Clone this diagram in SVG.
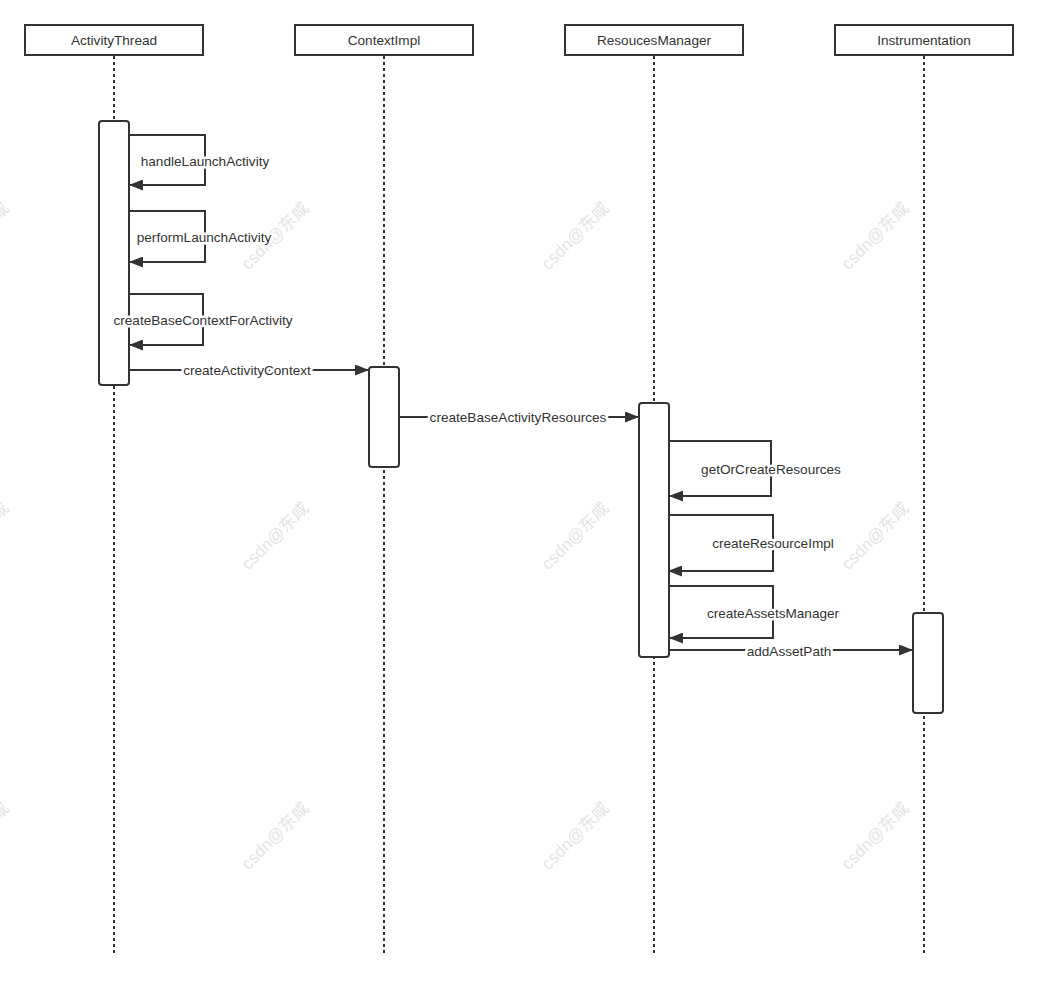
<svg xmlns="http://www.w3.org/2000/svg" width="1038" height="981" viewBox="0 0 1038 981">
<style>
.hd{fill:#fff;stroke:#333;stroke-width:2}
.ll{stroke:#333;stroke-width:2;stroke-dasharray:3 3;fill:none}
.act{fill:#fff;stroke:#333;stroke-width:2}
.msg{fill:none;stroke:#333;stroke-width:2}
.t{font-family:"Liberation Sans",Arial,sans-serif;font-size:13.6px;fill:#333;text-anchor:middle}
.lbl{font-family:"Liberation Sans",Arial,sans-serif;font-size:13.6px;fill:#333;text-anchor:middle;paint-order:stroke;stroke:#fff;stroke-width:5px;stroke-linejoin:round}
.wm{font-family:"Liberation Sans","Noto Sans CJK SC",sans-serif;font-size:17px;fill:#e4e4e4;text-anchor:middle}
</style>
<defs>
<marker id="ah" viewBox="0 0 14 11" refX="14" refY="5.5" markerWidth="14" markerHeight="11" markerUnits="userSpaceOnUse" orient="auto">
<path d="M0,0 L14,5.5 L0,11 Z" fill="#333"/>
</marker>
</defs>
<rect width="1038" height="981" fill="#fff"/>
<g id="watermarks">
<text class="wm" transform="translate(279,240) rotate(-45)">csdn@东咸</text>
<text class="wm" transform="translate(579,240) rotate(-45)">csdn@东咸</text>
<text class="wm" transform="translate(879,240) rotate(-45)">csdn@东咸</text>
<text class="wm" transform="translate(-21,240) rotate(-45)">csdn@东咸</text>
<text class="wm" transform="translate(279,540) rotate(-45)">csdn@东咸</text>
<text class="wm" transform="translate(579,540) rotate(-45)">csdn@东咸</text>
<text class="wm" transform="translate(879,540) rotate(-45)">csdn@东咸</text>
<text class="wm" transform="translate(-21,540) rotate(-45)">csdn@东咸</text>
<text class="wm" transform="translate(279,840) rotate(-45)">csdn@东咸</text>
<text class="wm" transform="translate(579,840) rotate(-45)">csdn@东咸</text>
<text class="wm" transform="translate(879,840) rotate(-45)">csdn@东咸</text>
<text class="wm" transform="translate(-21,840) rotate(-45)">csdn@东咸</text>
</g>
<g id="lifelines">
<line class="ll" x1="114" y1="56" x2="114" y2="955"/>
<line class="ll" x1="384" y1="56" x2="384" y2="955"/>
<line class="ll" x1="654" y1="56" x2="654" y2="955"/>
<line class="ll" x1="924" y1="56" x2="924" y2="955"/>
</g>
<g id="ActivityThread">
<rect class="hd" x="25" y="25" width="178" height="30"/>
<text class="t" x="114" y="45">ActivityThread</text>
<rect class="act" x="99" y="121" width="30" height="264" rx="3"/>
</g>
<g id="ContextImpl">
<rect class="hd" x="295" y="25" width="178" height="30"/>
<text class="t" x="384" y="45">ContextImpl</text>
<rect class="act" x="369" y="367" width="30" height="100" rx="3"/>
</g>
<g id="ResoucesManager">
<rect class="hd" x="565" y="25" width="178" height="30"/>
<text class="t" x="654" y="45">ResoucesManager</text>
<rect class="act" x="639" y="403" width="30" height="254" rx="3"/>
</g>
<g id="Instrumentation">
<rect class="hd" x="835" y="25" width="178" height="30"/>
<text class="t" x="924" y="45">Instrumentation</text>
<rect class="act" x="913" y="613" width="30" height="100" rx="3"/>
</g>
<g id="connectors">
<polyline class="msg" points="129,135 205,135 205,185 129,185" marker-end="url(#ah)"/>
<text class="lbl" x="205" y="166">handleLaunchActivity</text>
<polyline class="msg" points="129,211 205,211 205,262 129,262" marker-end="url(#ah)"/>
<text class="lbl" x="204" y="242">performLaunchActivity</text>
<polyline class="msg" points="129,294 203,294 203,345 129,345" marker-end="url(#ah)"/>
<text class="lbl" x="203" y="325">createBaseContextForActivity</text>
<line class="msg" x1="129" y1="370" x2="369" y2="370" marker-end="url(#ah)"/>
<text class="lbl" x="247" y="375">createActivityContext</text>
<line class="msg" x1="399" y1="417" x2="639" y2="417" marker-end="url(#ah)"/>
<text class="lbl" x="518" y="422">createBaseActivityResources</text>
<polyline class="msg" points="669,441 771,441 771,496 669,496" marker-end="url(#ah)"/>
<text class="lbl" x="771" y="474">getOrCreateResources</text>
<polyline class="msg" points="669,515 773,515 773,571 668,571" marker-end="url(#ah)"/>
<text class="lbl" x="773" y="548">createResourceImpl</text>
<polyline class="msg" points="669,586 773,586 773,638 669,638" marker-end="url(#ah)"/>
<text class="lbl" x="773" y="618">createAssetsManager</text>
<line class="msg" x1="669" y1="650" x2="913" y2="650" marker-end="url(#ah)"/>
<text class="lbl" x="789" y="656">addAssetPath</text>
</g>
</svg>
